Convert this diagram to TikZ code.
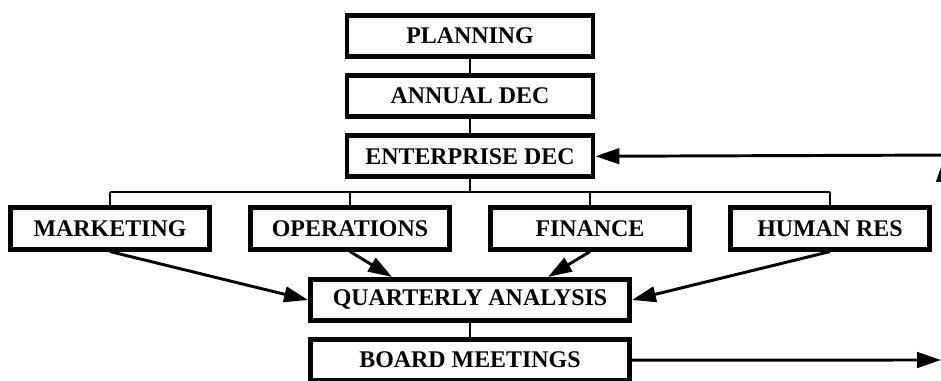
\documentclass[tikz,border=0pt]{standalone}
\usepackage{fontspec}
\setmainfont{Liberation Serif}
\usetikzlibrary{arrows,arrows.meta,positioning}

\begin{document}
\begin{tikzpicture}[x=0.025cm,y=-0.025cm,->,>={Triangle[length=17pt,width=11pt]},
  line width=2.1pt,
  main node/.style={rectangle,draw,line width=3.5pt,inner sep=0pt,
    minimum height=1.03cm,font=\fontsize{17}{20}\selectfont\bfseries},
  top node/.style={main node,minimum width=6.15cm},
  dept node/.style={main node,minimum width=4.975cm},
  link/.style={-,line width=1.4pt}]
    \useasboundingbox (0,0) rectangle (941,381);
    \clip (0,0) rectangle (941,381);
    \node[top node] (P) at (470,36) {PLANNING};
    \node[top node,below=0.35cm of P] (A) {ANNUAL DEC};
    \node[top node,below=0.35cm of A] (E) {ENTERPRISE DEC};
    \node[dept node] (M) at (110,228.5) {MARKETING};
    \node[dept node] (O) at (350,228.5) {OPERATIONS};
    \node[dept node] (F) at (590,228.5) {FINANCE};
    \node[dept node] (H) at (830,228.5) {HUMAN RES};
    \node[main node,minimum width=7.975cm] (Q) at (470,300) {QUARTERLY ANALYSIS};
    \node[main node,minimum width=7.975cm,below=0.35cm of Q] (B) {BOARD MEETINGS};
    \coordinate (bus) at (470,192);
    \coordinate (fb) at (960,155);
    \coordinate (up) at (944,260);
    \coordinate (up end) at (944,158);
    \coordinate (out) at (941,360);
    % tree
    \draw[link] (P) -- (A);
    \draw[link] (A) -- (E);
    \draw[link] (E) -- (bus);
    \draw[link] (M.north |- bus) -- (H.north |- bus);
    \foreach \d in {M,O,F,H}
      \draw[link] (\d.north |- bus) -- (\d.north);
    \draw[link] (Q) -- (B);
    % arrows
    \draw (M.south) -- (Q.west);
    \draw (O.south) -- ([xshift=-1.95cm]Q.north);
    \draw (F.south) -- ([xshift=1.95cm]Q.north);
    \draw (H.south) -- (Q.east);
    \draw (fb) -- (E.east);
    \draw (up) -- (up end);
    \draw (B.east) -- (out);
\end{tikzpicture}
\end{document}
